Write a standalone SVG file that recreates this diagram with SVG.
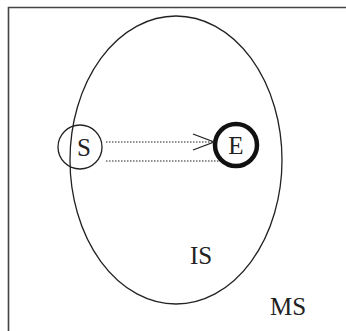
<svg xmlns="http://www.w3.org/2000/svg" width="346" height="331" viewBox="0 0 346 331">
<style>
.ln{fill:none;stroke:#222;stroke-width:1.3}
.dot{fill:none;stroke:#222;stroke-width:1.2;stroke-dasharray:1.5 1.5}
text{font-family:"Liberation Serif","Times New Roman",serif;font-size:25px;fill:#222;text-anchor:middle}
</style>
<rect width="346" height="331" fill="#fff"/>
<g id="MS">
<path d="M8.5 346 V7.5 H346" fill="none" stroke="#444" stroke-width="1.6"/>
<text x="288" y="315">MS</text>
</g>
<g id="IS">
<ellipse class="ln" cx="176" cy="160" rx="106" ry="144"/>
<text x="201" y="264">IS</text>
</g>
<g id="S">
<circle class="ln" cx="80" cy="147" r="22"/>
<text x="84" y="156">S</text>
</g>
<g id="E">
<circle fill="none" stroke="#111" stroke-width="4.5" cx="236" cy="145" r="21"/>
<text x="236" y="154">E</text>
</g>
<g id="connectors">
<line class="dot" x1="106" y1="142" x2="214" y2="142"/>
<line class="dot" x1="106" y1="161" x2="220" y2="161"/>
<path class="ln" d="M193 134 L214 142 L193 150"/>
</g>
</svg>
